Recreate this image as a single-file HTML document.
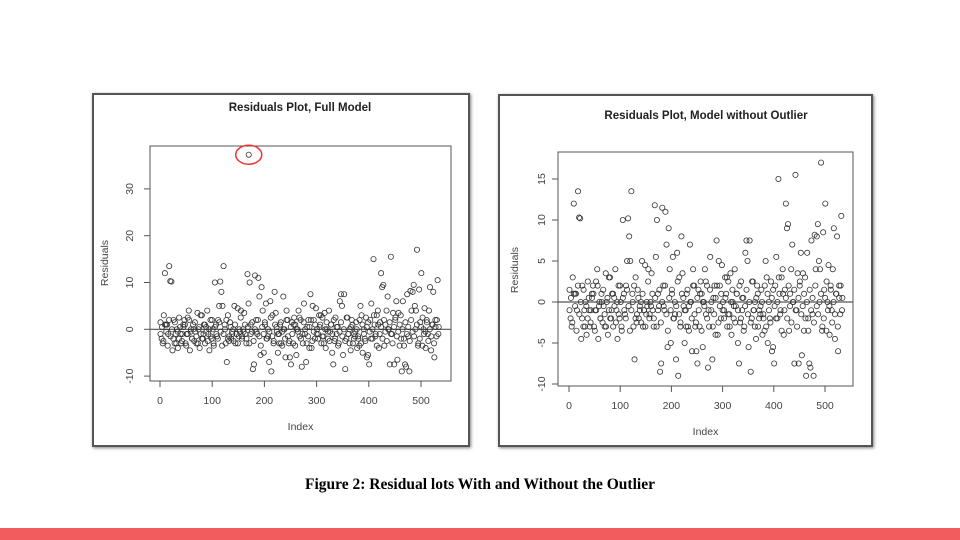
<!DOCTYPE html>
<html><head><meta charset="utf-8">
<style>
html,body{margin:0;padding:0;background:#fff;}
body{width:960px;height:540px;position:relative;overflow:hidden;font-family:"Liberation Sans",sans-serif;}
.panel{position:absolute;border:2px solid #555;box-shadow:1px 1px 3px rgba(0,0,0,0.5);background:#fff;box-sizing:border-box;}
#caption{position:absolute;left:0;width:960px;top:476px;text-align:center;font-family:"Liberation Serif",serif;font-weight:bold;font-size:15.5px;color:#000;}
#bar{position:absolute;left:0;top:528px;width:960px;height:12px;background:#f25c5f;}
svg{position:absolute;left:0;top:0;}
</style></head><body>
<div class="panel" style="left:92px;top:93px;width:378px;height:354px;"></div>
<div class="panel" style="left:498px;top:94px;width:375px;height:353px;"></div>
<svg id="chart" width="960" height="540"></svg>
<div id="caption">Figure 2: Residual lots With and Without the Outlier</div>
<div id="bar"></div>
<script>
const residuals = [1.5,-2,-3,3,12,1,1,-1,13.5,10.3,10.2,-4.5,2,-3,-1,0,-4,-2,0.5,-3,-1,1,2,-3,-1,2.5,4,-4.5,0,-2,1,-2.5,-0.5,-3,3.5,0,-4,-1,3,-2,1,-3,0.5,4,-1,-4.5,2,-2,0,-3.5,10,1,-1.5,2,5,10.2,8,5,13.5,1,-3,-7,3,-2.5,1.5,-2,-1,0,5,-3,-1,4.5,-1.5,-0.5,4,-2,0,3.5,-1,-3,11.8,5.5,10,1,-0.5,-8.5,-7.5,11.5,2,-1,11,7,-5.5,9,4,-5,1.5,5.5,-2,-1.5,-7,6,-9,3,-3,8,3.5,-0.5,-5,-1,1,-3,-3.5,7,0,-6,4,2,-3,-6,-7.5,1.5,-3,2.5,1,-5.5,0,4,-1.5,2,-8,-3,5.5,-1,-7,0.5,2,-4,7.5,-4,5,2,-2,4.5,0,-1,3,1,-3,2.5,-1.5,3.5,-4,0,-2,4,-0.5,1,-5,-7.5,-2.5,2.5,-1,0.5,-3,6,7.5,5,-5.5,7.5,-8.5,-2,2.5,-1,0,-4.5,2,-3,-1,-1.5,1.5,-4,-2,-3.5,5,3,-5,0,-2,2.5,-6,-5.5,-7.5,2,5.5,-2,15,1,-1,3,4,-4,1.5,12,9,9.5,-3.5,1,4,7,0,-7.5,15.5,-1,3.5,-7.5,2,6,-6.5,3.5,-3.5,3,-9,6,-2,-7.5,-8,7.5,-1.5,-9,8.2,4,8,9.5,5,4,17,-3.5,8.5,1.5,12,-3.5,0,4.5,-4,2,-1,4,9,-4.5,1,8,-6,2,-1.5,10.5,0.5];
const residualsBand = [-1,0.5,-2.5,1,-0.5,-3.5,2,-1.5,0,-2,1.5,-3,-0.5,2.5,-1,-2.5,0.5,1,-3.5,-1,2,-0.5,-2,0,1.5,-1.5,-3,0.5,3,-2,-1,1,-0.5,-2.5,0,-1.5,2,-3,0.5,-1,-2,1.5,-0.5,-3.5,-1,0,2,-2,-1.5,0.5,-0.5,-2.5,1,-1,-3,0,2.5,-1.5,-0.5,1,-2,0.5,-3,-1,1.5,-2.5,0,-0.5,2,-1.5,-3.5,0.5,-1,1,-2,0,-0.5,2.5,-1.5,-2.5,1,0.5,-1,-3,1.5,-0.5,0,-2,2,-1.5,-2.5,0.5,-1,1,-3.5,0,-0.5,2.5,-2,-1,1.5,0,-3,-1.5,0.5,2,-2.5,-0.5,1,-1,-2,0.5,3,-1.5,-3,0,1.5,-0.5,-2.5,1,-1,2,-2,0.5,-3.5,-0.5,1.5,-1.5,0,-2.5,2.5,-1,-3,0.5,1,-2,-0.5,0,-1.5,2,-3,1,-1,-2.5,0.5,1.5,-0.5,-2,0,3,-1.5,-3.5,1,-1,0.5,-2,2,-0.5,-2.5,0,1.5,-1,-3,0.5,2.5,-1.5,-0.5,1,-2,0,-3.5,1.5,-1,0.5,-2.5,2,-0.5,-1.5,0,1,-3,-2,0.5,2.5,-1,-0.5,1.5,-2.5,0,-1.5,1,-3,0.5,2,-1];
const outlierIndex = [170];
const outlierValue = [37.3];
const leftYTicks = [-10,0,10,20,30];
const rightYTicks = [-10,-5,0,5,10,15];
const xTicks = [0,100,200,300,400,500];
const totalIndex = 535;

const svg = document.getElementById('chart');
const NS = 'http://www.w3.org/2000/svg';
function mk(tag, attrs, parent){const e=document.createElementNS(NS,tag);for(const k in attrs)e.setAttribute(k,attrs[k]);(parent||svg).appendChild(e);return e;}

function drawPanel(p){
  const g = mk('g',{});
  
  
  const xs = v => p.x0 + (v/500)*(p.x500-p.x0);
  const ys = v => p.y0 - v*p.pxPerUnit;
  const box = mk('rect',{x:p.left,y:p.top,width:p.right-p.left,height:p.bottom-p.top,fill:'none',stroke:'#555','stroke-width':1},g);
  
  
  const zl = mk('line',{x1:p.left,x2:p.right,y1:ys(0),y2:ys(0),stroke:'#555','stroke-width':1.2},g);
  
  
  xTicks.forEach(t=>{
    mk('line',{x1:xs(t),x2:xs(t),y1:p.bottom,y2:p.bottom+6,stroke:'#555'},g);
    const tx = mk('text',{x:xs(t),y:p.xLabelY,'text-anchor':'middle','font-size':10.5,fill:'#444'},g);
    tx.textContent = t;
    
    
  });
  p.yTicks.forEach(t=>{
    mk('line',{x1:p.left,x2:p.left-6,y1:ys(t),y2:ys(t),stroke:'#555'},g);
    const ty = mk('text',{x:p.yLabelX,y:ys(t),'text-anchor':'middle','font-size':10.5,fill:'#444',transform:'rotate(-90 '+p.yLabelX+' '+ys(t)+')'},g);
    ty.textContent = t;
    
    
  });
  [residuals, residualsBand].forEach(arr=>{
    const step = totalIndex / arr.length;
    arr.forEach((v,i)=>{
      const c = mk('circle',{cx:xs(i*step+1),cy:ys(v),r:2.6,fill:'none',stroke:'#333','stroke-width':0.8},g);
      
      
    });
  });
  if(p.outlier){
    outlierIndex.forEach((ix,k)=>{
      const c = mk('circle',{cx:xs(ix),cy:ys(outlierValue[k]),r:2.6,fill:'none',stroke:'#333','stroke-width':0.8},g);
      
      
      const e = mk('ellipse',{cx:xs(ix),cy:ys(outlierValue[k]),rx:13,ry:9.5,fill:'none',stroke:'#e33','stroke-width':1.5},g);
      
      
    });
  }
  const tt = mk('text',{x:p.titleX,y:p.titleY,'text-anchor':'middle','font-size':11.5,'font-weight':'bold',fill:'#222'},g);
  tt.textContent = p.title;
  
  
  const xl = mk('text',{x:(p.left+p.right)/2,y:p.xTitleY,'text-anchor':'middle','font-size':10.5,fill:'#444'},g);
  xl.textContent = 'Index';
  
  
  const yl = mk('text',{x:p.yTitleX,y:p.yTitleY,'text-anchor':'middle','font-size':10.5,fill:'#444',transform:'rotate(-90 '+p.yTitleX+' '+p.yTitleY+')'},g);
  yl.textContent = 'Residuals';
  
  
}

drawPanel({name:'left-chart-full-model',left:150,right:451,top:146,bottom:381,x0:160,x500:421,y0:329.3,pxPerUnit:4.68,
  yTicks:leftYTicks,xLabelY:404,yLabelX:133,title:'Residuals Plot, Full Model',titleX:300,titleY:111,xTitleY:430,yTitleX:108,yTitleY:263,outlier:true});
drawPanel({name:'right-chart-without-outlier',left:558,right:853,top:152,bottom:386,x0:569,x500:825,y0:302,pxPerUnit:8.2,
  yTicks:rightYTicks,xLabelY:409,yLabelX:545,title:'Residuals Plot, Model without Outlier',titleX:706,titleY:119,xTitleY:435,yTitleX:518,yTitleY:270,outlier:false});
</script>
</body></html>
